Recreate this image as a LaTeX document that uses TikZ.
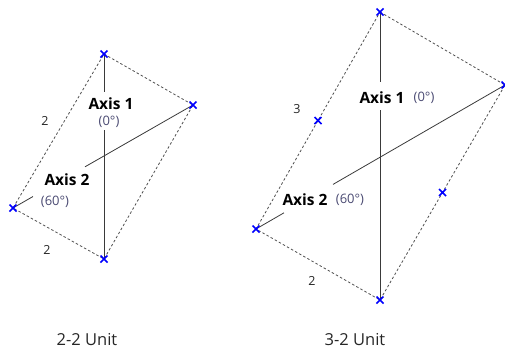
\documentclass[tikz,border=0pt]{standalone}
\usepackage{fontspec}
\setmainfont{Open Sans}
\usetikzlibrary{shapes.misc,calc}
\definecolor{degc}{HTML}{4A4A72}
\definecolor{linec}{HTML}{3A3A3A}
\definecolor{dashc}{HTML}{505050}
\begin{document}
\begin{tikzpicture}[x=1pt,y=-1pt,
  xmark/.style={cross out, draw=blue, line width=1.5pt, minimum size=5.5pt, inner sep=0pt},
  axisline/.style={draw=linec, line width=0.8pt},
  edge/.style={draw=dashc, line width=0.8pt, dash pattern=on 2.5pt off 2.2pt},
  axlabel/.style={font=\fontsize{15.5}{18}\selectfont\bfseries, text=black, inner sep=0pt},
  deglabel/.style={font=\fontsize{13}{15}\selectfont, text=degc, inner sep=0pt},
  numlabel/.style={font=\fontsize{12.5}{15}\selectfont, text=black!85, inner sep=0pt},
  caption/.style={font=\fontsize{16.5}{20}\selectfont, text=black!85, inner sep=0pt}]
\useasboundingbox (0,0) rectangle (505,349);
% ---------- left: 2-2 unit ----------
\coordinate (Lt) at (104,54);
\coordinate (Lr) at (193,105);
\coordinate (Ll) at (13,208);
\coordinate (Lb) at (104,259);
\coordinate (La1a) at (104,92);
\coordinate (La1b) at (104,130);
\coordinate (La2a) at (85,166.8);
\coordinate (La2b) at (33,196.5);
\draw[edge] (Lt) -- (Lr) -- (Lb) -- (Ll) -- cycle;
\draw[axisline] (Lt) -- (La1a);
\draw[axisline] (La1b) -- (Lb);
\draw[axisline] (Lr) -- (La2a);
\draw[axisline] (La2b) -- (Ll);
\node[xmark] (mLt) at (Lt) {};
\node[xmark] (mLr) at (Lr) {};
\node[xmark] (mLl) at (Ll) {};
\node[xmark] (mLb) at (Lb) {};
\node[axlabel] (LA1) at (111,104) {Axis 1};
\node[deglabel] (LD1) at (109,122) {(0°)};
\node[axlabel] (LA2) at (67,180) {Axis 2};
\node[deglabel] (LD2) at (55,202) {(60°)};
\node[numlabel] (Ln1) at (45,121) {2};
\node[numlabel] (Ln2) at (47,250) {2};
\node[caption] (Lcap) at (87,340) {2-2 Unit};
% ---------- right: 3-2 unit ----------
\coordinate (Rt) at (380,12);
\coordinate (Rr) at (505,85);
\coordinate (Rl) at (256,229);
\coordinate (Rb) at (380,300);
\coordinate (Ra1a) at (380,82);
\coordinate (Ra1b) at (380,110);
\coordinate (Ra2a) at (333,184.4);
\coordinate (Ra2b) at (284,212.8);
\draw[edge] (Rt) -- (Rr) -- (Rb) -- (Rl) -- cycle;
\draw[axisline] (Rt) -- (Ra1a);
\draw[axisline] (Ra1b) -- (Rb);
\draw[axisline] (Rr) -- (Ra2a);
\draw[axisline] (Ra2b) -- (Rl);
\node[xmark] (mRt) at (Rt) {};
\node[xmark] (mRr) at (Rr) {};
\node[xmark] (mRl) at (Rl) {};
\node[xmark] (mRb) at (Rb) {};
\node[xmark] (mRm1) at ($(Rl)!0.5!(Rt)$) {};
\node[xmark] (mRm2) at ($(Rr)!0.5!(Rb)$) {};
\node[axlabel] (RA1) at (382,98) {Axis 1};
\node[deglabel] (RD1) at (424,98) {(0°)};
\node[axlabel] (RA2) at (305,200) {Axis 2};
\node[deglabel] (RD2) at (350,200) {(60°)};
\node[numlabel] (Rn1) at (297,109) {3};
\node[numlabel] (Rn2) at (312,281) {2};
\node[caption] (Rcap) at (355,340) {3-2 Unit};
\end{tikzpicture}
\end{document}
